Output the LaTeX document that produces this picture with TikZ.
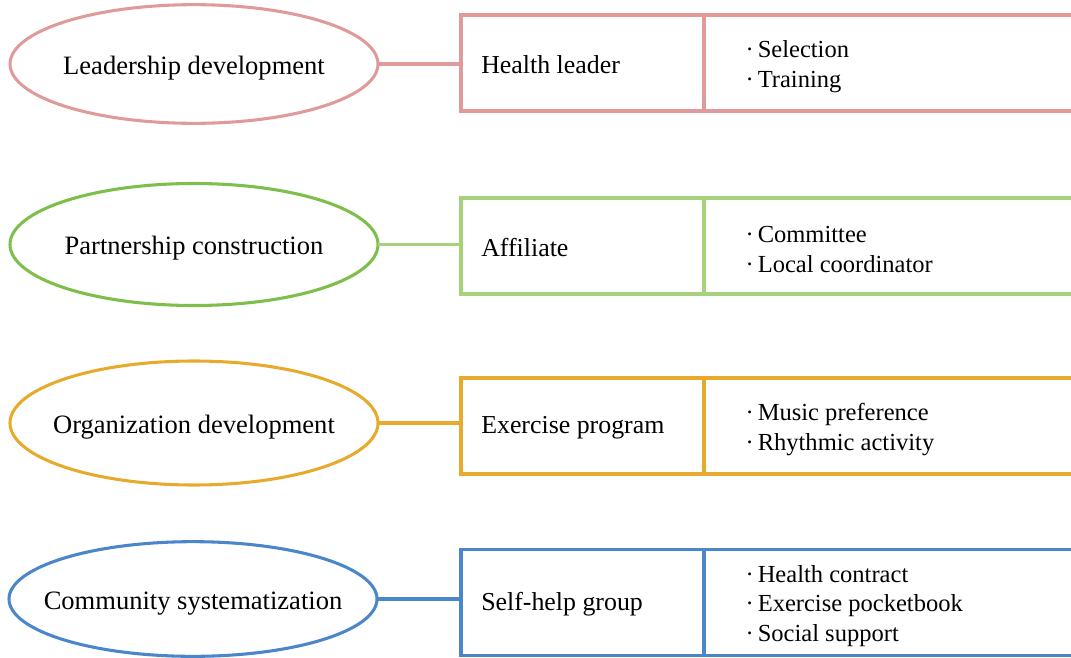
\documentclass[tikz,border=0pt]{standalone}
\usepackage{fontspec}
\setmainfont{Liberation Serif}
\usetikzlibrary{shapes.geometric}
\definecolor{rose}{RGB}{225,154,154}
\definecolor{leafdark}{RGB}{126,190,74}
\definecolor{leaf}{RGB}{166,210,124}
\definecolor{amber}{RGB}{232,170,44}
\definecolor{sky}{RGB}{74,134,201}
% zero-size label so the ellipse keeps its own size; baseline set below the centre
\newcommand{\ovaltext}[1]{\smash{\raisebox{-7.5pt}{\makebox[0pt][c]{#1}}}}
\newcommand{\itm}{·\hspace{3pt}}
\tikzset{
  oval/.style={ellipse, draw=#1, line width=2.3pt, minimum width=276pt, minimum height=89pt,
    inner sep=0pt, outer sep=0pt, font=\fontsize{19.9}{22}\selectfont},
  namebox/.style={rectangle, draw=#1, line width=2.3pt, minimum width=182.25pt, minimum height=72pt,
    inner sep=0pt, outer sep=0pt},
  itembox/.style={rectangle, draw=#1, line width=2.3pt, minimum width=312pt, minimum height=72pt,
    inner sep=0pt, outer sep=0pt},
  namelabel/.style={anchor=west, inner sep=0pt, xshift=15pt, yshift=-1pt, font=\fontsize{19.4}{22}\selectfont},
  itemlabel/.style={anchor=west, inner sep=0pt, xshift=31pt, yshift=-2.6pt, align=left,
    font=\fontsize{18.4}{22.2}\selectfont},
  link/.style={draw=#1, line width=2.3pt}
}
\begin{document}
\begin{tikzpicture}[x=0.75pt, y=-0.75pt]
\useasboundingbox (0,0) rectangle (1071,657);
\clip (0,0) rectangle (1071,657);

% Leadership development
\node[oval=rose] (e1) at (194,64) {\ovaltext{Leadership development}};
\node[namebox=rose] (n1) at (582.5,63) {};
\node[itembox=rose, anchor=west] (i1) at (n1.east) {};
\node[namelabel] (t1) at (n1.west) {Health leader};
\node[itemlabel] (l1) at (i1.west) {\itm Selection\\\itm Training};
\draw[link=rose] (e1.east) -- (e1.east -| n1.west);

% Partnership construction
\node[oval=leafdark, minimum height=91.5pt] (e2) at (194,244.5) {\ovaltext{Partnership construction}};
\node[namebox=leaf] (n2) at (582.5,246) {};
\node[itembox=leaf, anchor=west] (i2) at (n2.east) {};
\node[namelabel] (t2) at (n2.west) {Affiliate};
\node[itemlabel] (l2) at (i2.west) {\itm Committee\\\itm Local coordinator};
\draw[link=leaf] (e2.east) -- (e2.east -| n2.west);

% Organization development
\node[oval=amber, minimum height=93pt] (e3) at (194,423) {\ovaltext{Organization development}};
\node[namebox=amber] (n3) at (582.5,426) {};
\node[itembox=amber, anchor=west] (i3) at (n3.east) {};
\node[namelabel] (t3) at (n3.west) {Exercise program};
\node[itemlabel] (l3) at (i3.west) {\itm Music preference\\\itm Rhythmic activity};
\draw[link=amber] (e3.east) -- (e3.east -| n3.west);

% Community systematization
\node[oval=sky, minimum height=86pt] (e4) at (193,599) {\ovaltext{Community systematization}};
\node[namebox=sky, minimum height=80pt] (n4) at (582.5,602.5) {};
\node[itembox=sky, minimum height=80pt, anchor=west] (i4) at (n4.east) {};
\node[namelabel] (t4) at (n4.west) {Self-help group};
\node[itemlabel] (l4) at (i4.west) {\itm Health contract\\\itm Exercise pocketbook\\\itm Social support};
\draw[link=sky] (e4.east) -- (e4.east -| n4.west);
\end{tikzpicture}
\end{document}
